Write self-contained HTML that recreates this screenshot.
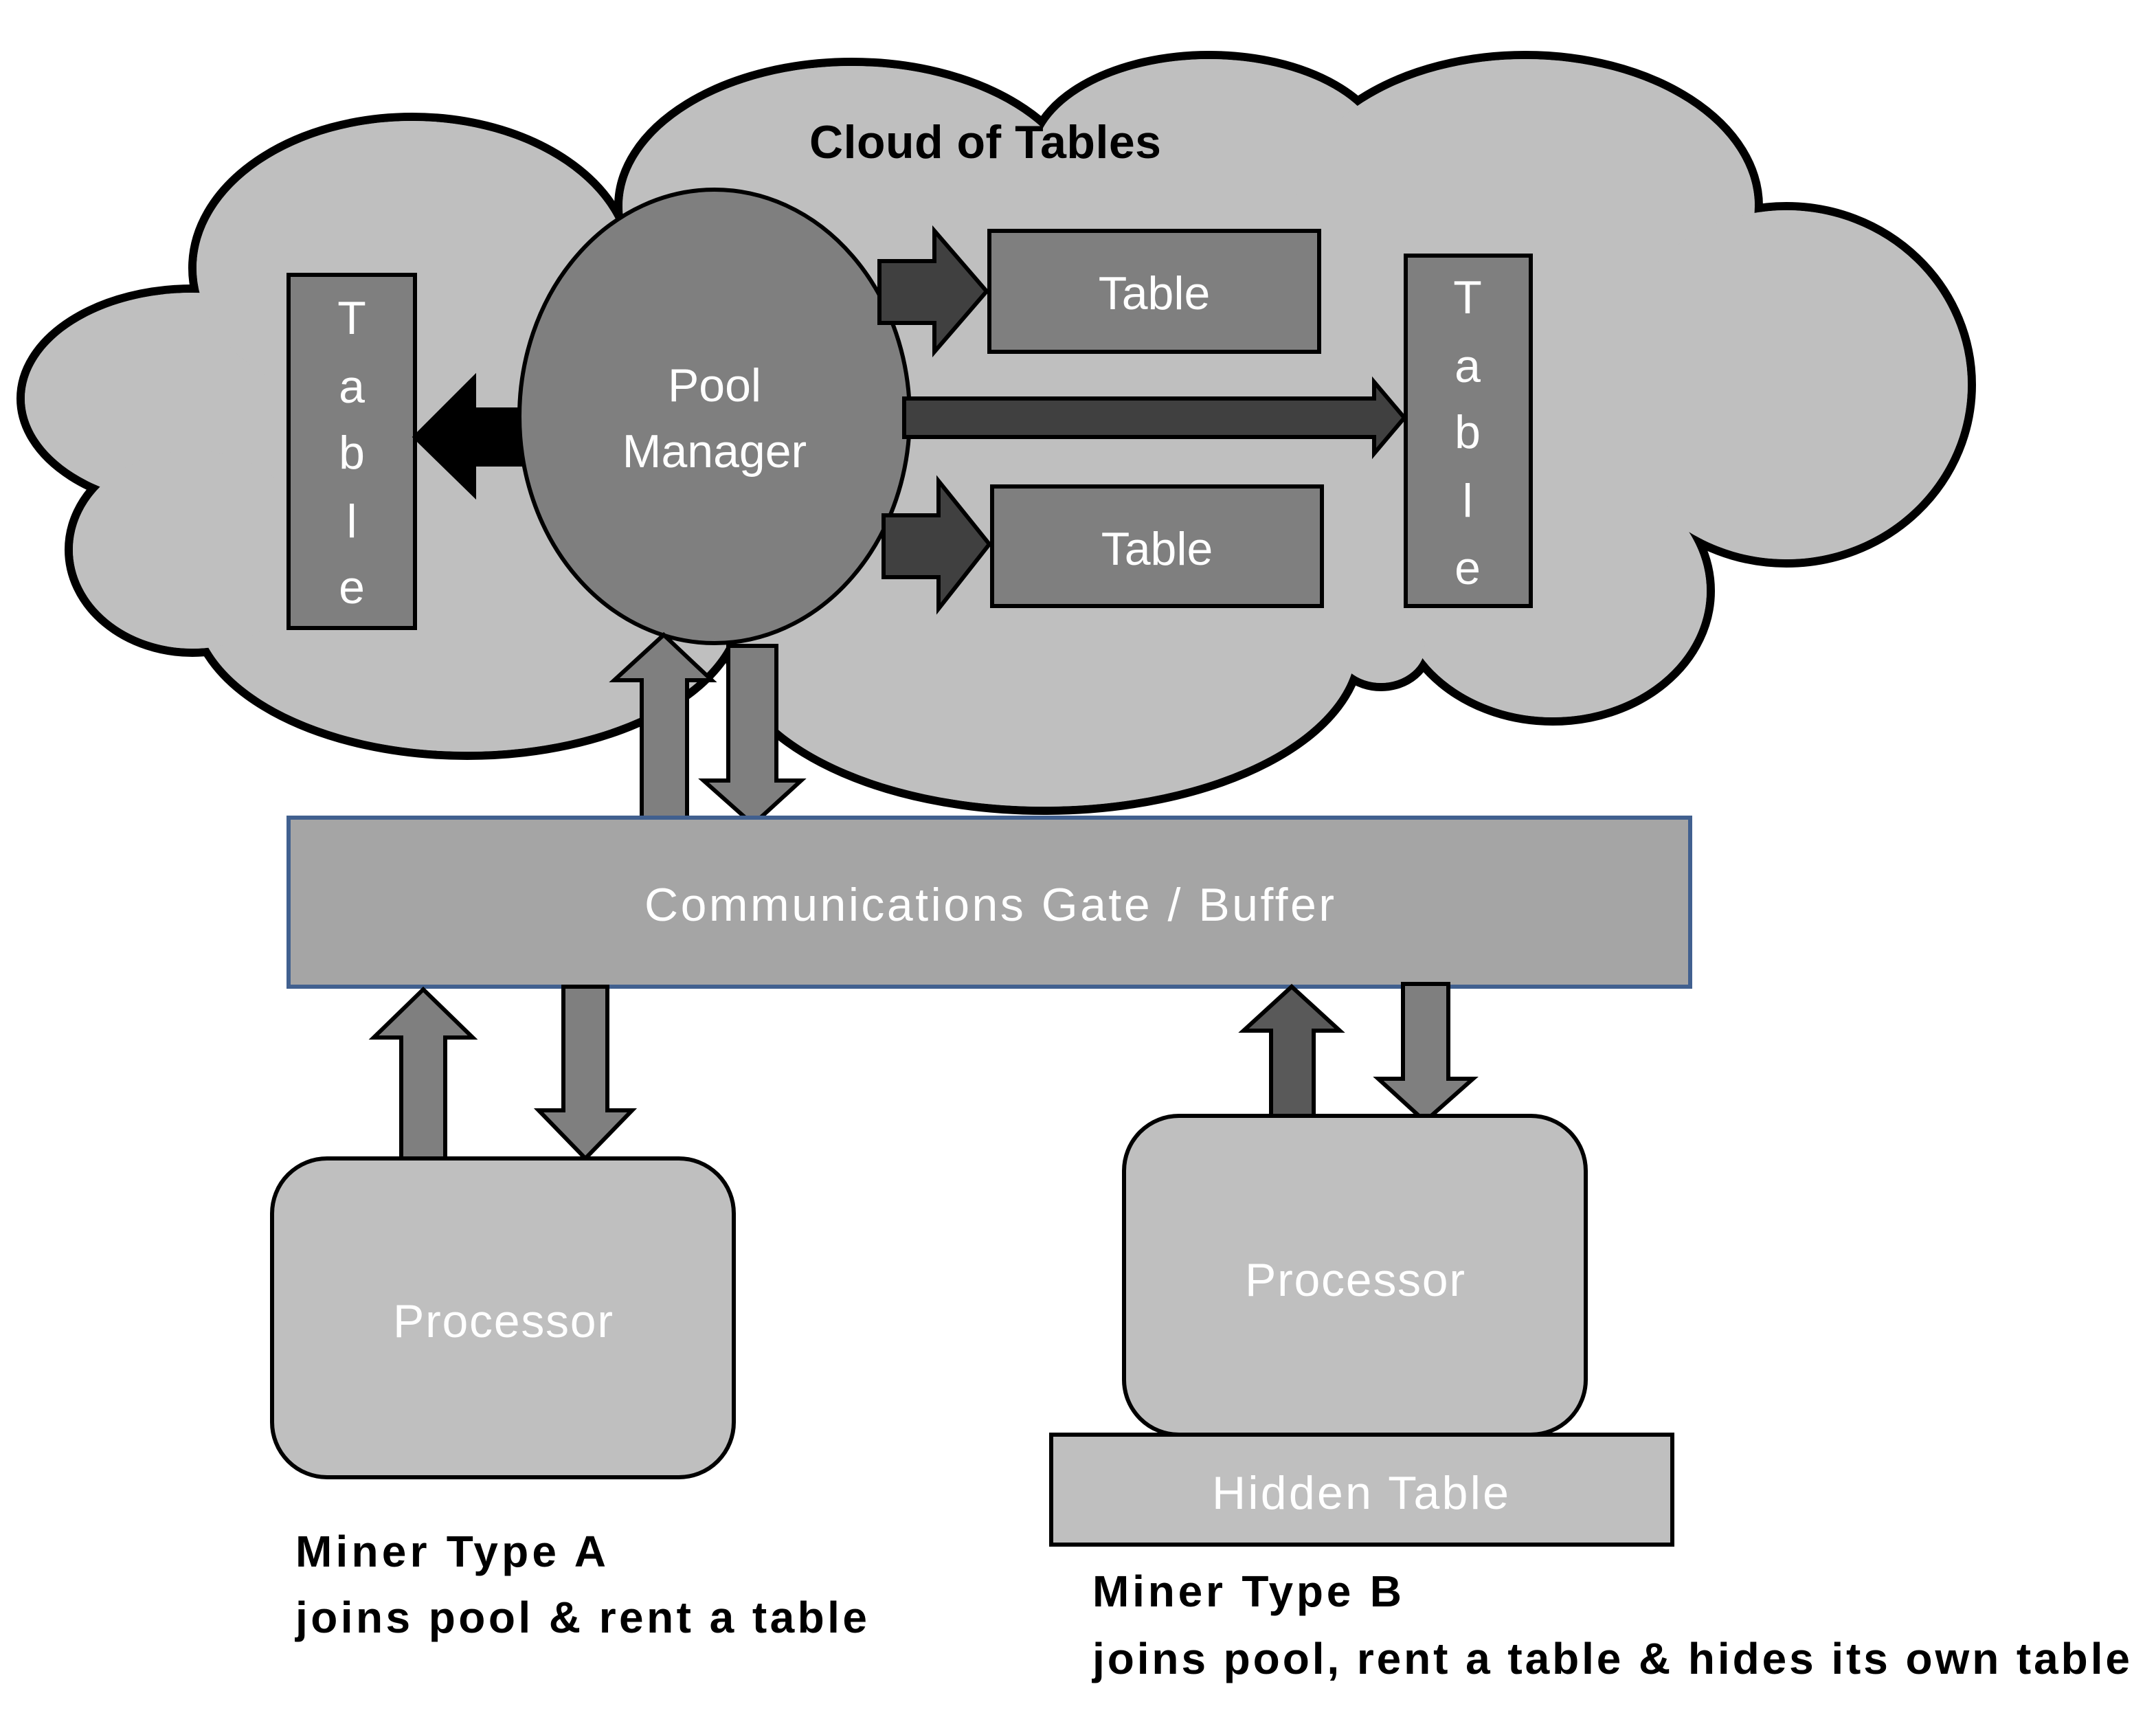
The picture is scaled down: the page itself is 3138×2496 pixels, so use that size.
<!DOCTYPE html>
<html><head><meta charset="utf-8"><style>html,body{margin:0;padding:0;background:#fff}svg{display:block}</style></head>
<body>
<svg width="3138" height="2496" viewBox="0 0 1569 1248" xmlns="http://www.w3.org/2000/svg" font-family="Liberation Sans, sans-serif">
<rect width="1569" height="1248" fill="#fff"/>
<g stroke="#000" stroke-width="6" fill="#bfbfbf">
<ellipse cx="140" cy="290" rx="125" ry="80"/>
<ellipse cx="300" cy="195" rx="160" ry="110"/>
<ellipse cx="620" cy="150" rx="170" ry="105"/>
<ellipse cx="880" cy="115" rx="130" ry="75"/>
<ellipse cx="1110" cy="150" rx="170" ry="110"/>
<ellipse cx="1300" cy="280" rx="135" ry="130"/>
<ellipse cx="1130" cy="430" rx="115" ry="95"/>
<ellipse cx="760" cy="470" rx="230" ry="120"/>
<ellipse cx="340" cy="440" rx="200" ry="110"/>
<ellipse cx="140" cy="400" rx="90" ry="75"/>
<ellipse cx="1005" cy="470" rx="35" ry="30"/>
</g>
<g fill="#bfbfbf">
<ellipse cx="140" cy="290" rx="122" ry="77"/>
<ellipse cx="300" cy="195" rx="157" ry="107"/>
<ellipse cx="620" cy="150" rx="167" ry="102"/>
<ellipse cx="880" cy="115" rx="127" ry="72"/>
<ellipse cx="1110" cy="150" rx="167" ry="107"/>
<ellipse cx="1300" cy="280" rx="132" ry="127"/>
<ellipse cx="1130" cy="430" rx="112" ry="92"/>
<ellipse cx="760" cy="470" rx="227" ry="117"/>
<ellipse cx="340" cy="440" rx="197" ry="107"/>
<ellipse cx="140" cy="400" rx="87" ry="72"/>
<ellipse cx="1005" cy="470" rx="32" ry="27"/>
<rect x="460" y="165" width="740" height="280"/>
<rect x="700" y="145" width="300" height="40"/>
<rect x="970" y="435" width="60" height="40"/>
<rect x="200" y="200" width="300" height="250"/>
</g>
<text x="717" y="115" font-size="34" font-weight="bold" text-anchor="middle" textLength="256">Cloud of Tables</text>
<g stroke="#000" stroke-width="3" fill="#7f7f7f">
<rect x="210" y="200" width="92" height="257"/>
<rect x="720" y="168" width="240" height="88"/>
<rect x="722" y="354" width="240" height="87"/>
<rect x="1023" y="186" width="91" height="255"/>
</g>
<polygon points="382,298 345,298 345,275 302,318 345,360 345,338 382,338" fill="#000" stroke="#000" stroke-width="3"/>
<ellipse cx="520" cy="303" rx="142" ry="165" fill="#7f7f7f" stroke="#000" stroke-width="3"/>
<g fill="#404040" stroke="#000" stroke-width="3">
<polygon points="640,190 680,190 680,168 718,212 680,256 680,235 640,235"/>
<polygon points="658,290 1000,290 1000,278 1022,304 1000,330 1000,318 658,318"/>
<polygon points="643,375 683,375 683,350 720,396 683,443 683,420 643,420"/>
</g>
<g fill="#fff" font-size="34" text-anchor="middle">
<text x="520" y="292">Pool</text><text x="520" y="340">Manager</text>
<text x="840" y="225">Table</text><text x="842" y="411">Table</text>
<text x="256" y="243">T</text><text x="256" y="293">a</text><text x="256" y="341">b</text><text x="256" y="391">l</text><text x="256" y="439">e</text>
<text x="1068" y="228">T</text><text x="1068" y="278">a</text><text x="1068" y="326">b</text><text x="1068" y="376">l</text><text x="1068" y="425">e</text>
</g>
<g fill="#7f7f7f" stroke="#000" stroke-width="3">
<polygon points="467,600 500,600 500,495 518,495 483,462 447,495 467,495"/>
<polygon points="530,470 565,470 565,568 583,568 548,600 512,568 530,568"/>
</g>
<rect x="210" y="595" width="1020" height="123" fill="#a5a5a5" stroke="#41608f" stroke-width="3"/>
<text x="720" y="670" font-size="34" fill="#fff" text-anchor="middle" textLength="502">Communications Gate / Buffer</text>
<g fill="#7f7f7f" stroke="#000" stroke-width="3">
<polygon points="292,843 324,843 324,755 344,755 308,720 272,755 292,755"/>
<polygon points="410,718 442,718 442,808 460,808 426,843 392,808 410,808"/>
<polygon points="1021,716 1054,716 1054,785 1072,785 1037,816 1003,785 1021,785"/>
</g>
<polygon points="925,812 956,812 956,750 975,750 940,718 905,750 925,750" fill="#595959" stroke="#000" stroke-width="3"/>
<g fill="#bfbfbf" stroke="#000" stroke-width="3">
<rect x="198" y="843" width="336" height="232" rx="40"/>
<rect x="765" y="1044" width="452" height="80"/>
<rect x="818" y="812" width="336" height="232" rx="40"/>
</g>
<g fill="#fff" font-size="34" text-anchor="middle">
<text x="366" y="973" textLength="160">Processor</text>
<text x="986" y="943" textLength="160">Processor</text>
<text x="990" y="1098" textLength="216">Hidden Table</text>
</g>
<g font-size="32" font-weight="bold" fill="#000">
<text x="215" y="1140" textLength="226">Miner Type A</text>
<text x="215" y="1188" textLength="416">joins pool &amp; rent  a table</text>
<text x="795" y="1169" textLength="225">Miner Type B</text>
<text x="795" y="1218" textLength="755">joins pool, rent a table  &amp; hides its own table</text>
</g>
</svg>
</body></html>
